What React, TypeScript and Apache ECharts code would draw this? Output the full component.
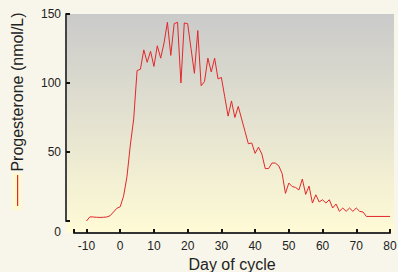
import React, { useEffect, useRef } from "react";
import * as echarts from "echarts";

const days = [
  -10, -9, -8, -7, -6, -5, -4, -3, -2, -1, 0, 1, 2, 3, 4, 5, 6, 7, 8, 9, 10,
  11, 12, 13, 14, 15, 16, 17, 18, 19, 20, 21, 22, 23, 24, 25, 26, 27, 28, 29,
  30, 31, 32, 33, 34, 35, 36, 37, 38, 39, 40, 41, 42, 43, 44, 45, 46, 47, 48,
  49, 50, 51, 52, 53, 54, 55, 56, 57, 58, 59, 60, 61, 62, 63, 64, 65, 66, 67,
  68, 69, 70, 71, 72, 73, 80,
];
const progesterone = [
  0, 3, 2.9, 2.7, 2.6, 2.7, 2.9, 3.8, 6.5, 9.2, 10.3, 18, 32, 55, 74, 109, 110,
  124, 115, 123, 112, 127, 118, 129, 144, 120, 143, 144, 100, 143.5, 143, 125,
  107, 138, 98, 101, 118, 108, 118, 103, 104, 90, 76, 87, 75, 83, 74, 65, 56,
  56.5, 49, 53.5, 48.5, 38, 38, 42, 42, 40, 34.5, 20, 27.5, 25, 24.3, 22.5,
  30.4, 19.3, 25.3, 13, 19, 13.8, 15.4, 13, 15.4, 9.4, 12.3, 7, 9.4, 7, 9.4, 7,
  9.4, 7, 6.5, 3.3, 3.3,
];
const xTickValues = [-13.7, -10, 0, 10, 20, 30, 40, 50, 60, 70, 80];
const xLabelValues = [-10, 0, 10, 20, 30, 40, 50, 60, 70, 80];
const yAxisTitle = "Progesterone (nmol/L)";
const xAxisTitle = "Day of cycle";

const FONT = "'Liberation Sans', Arial, Helvetica, sans-serif";
const LINE_COLOR = "#e2282a";
const AXIS_COLOR = "#333333";

export default function App() {
  const ref = useRef<HTMLDivElement>(null);

  useEffect(() => {
    if (!ref.current) return;
    const chart = echarts.init(ref.current, null, { renderer: "svg" });
    const seriesData = days.map((d, i) => [d, progesterone[i]]);
    chart.setOption({
      animation: false,
      backgroundColor: "#f8f6ea",
      textStyle: { fontFamily: FONT },
      grid: [
        {
          left: 66,
          top: 14,
          width: 328,
          height: 219,
          show: true,
          borderWidth: 0,
          containLabel: false,
          outerBoundsMode: "none",
          backgroundColor: new echarts.graphic.LinearGradient(0, 0, 0, 1, [
            { offset: 0, color: "#cacaca" },
            { offset: 1, color: "#fffbd6" },
          ]),
        },
        {
          left: 74,
          top: 14,
          width: 316,
          height: 207,
          containLabel: false,
          outerBoundsMode: "none",
        },
      ],
      xAxis: [
        { gridIndex: 0, type: "value", show: false, min: 0, max: 1 },
        {
          gridIndex: 1,
          type: "value",
          position: "bottom",
          min: -13.7,
          max: 80,
          offset: 12,
          axisLine: {
            show: true,
            onZero: false,
            lineStyle: { color: AXIS_COLOR, width: 2 },
          },
          axisTick: {
            show: true,
            inside: true,
            length: 4,
            customValues: xTickValues,
            lineStyle: { color: "#111", width: 2 },
          },
          axisLabel: {
            customValues: xLabelValues,
            margin: 7,
            fontSize: 12,
            color: "#222",
            fontFamily: FONT,
          },
          splitLine: { show: false },
          name: xAxisTitle,
          nameLocation: "middle",
          nameGap: 20,
          nameTextStyle: { fontSize: 16, color: "#222", fontFamily: FONT },
        },
      ],
      yAxis: [
        { gridIndex: 0, type: "value", show: false, min: 0, max: 1 },
        {
          gridIndex: 1,
          type: "value",
          position: "left",
          min: 0,
          max: 150,
          interval: 50,
          offset: 8,
          axisLine: {
            show: true,
            onZero: false,
            lineStyle: { color: "#444", width: 2 },
          },
          axisTick: {
            show: true,
            inside: true,
            length: 4,
            lineStyle: { color: "#111", width: 2 },
          },
          axisLabel: {
            margin: 5,
            fontSize: 12,
            lineHeight: 22,
            color: "#222",
            fontFamily: FONT,
            formatter: (v: number) => (v === 0 ? "\n0" : String(v)),
          },
          splitLine: { show: false },
        },
      ],
      series: [
        {
          type: "line",
          xAxisIndex: 1,
          yAxisIndex: 1,
          data: seriesData,
          showSymbol: false,
          symbol: "none",
          clip: false,
          lineStyle: { color: LINE_COLOR, width: 1 },
          z: 5,
        },
      ],
      graphic: [
        {
          type: "text",
          x: 17,
          y: 92,
          rotation: Math.PI / 2,
          style: {
            text: yAxisTitle,
            fontSize: 16,
            fontFamily: FONT,
            fill: "#222",
            textAlign: "center",
            textVerticalAlign: "middle",
          },
        },
        {
          type: "rect",
          z: 10,
          shape: { x: 12, y: 173, width: 10, height: 37 },
          style: { fill: "#fdf9d2" },
        },
        {
          type: "rect",
          z: 11,
          shape: { x: 17, y: 175, width: 1.2, height: 31 },
          style: { fill: LINE_COLOR },
        },
      ],
    });
    return () => chart.dispose();
  }, []);

  return (
    <div
      style={{
        position: "fixed",
        left: 0,
        top: 0,
        width: 398,
        height: 272,
        background: "#f8f6ea",
      }}
    >
      <div ref={ref} style={{ width: 398, height: 272 }} />
    </div>
  );
}
